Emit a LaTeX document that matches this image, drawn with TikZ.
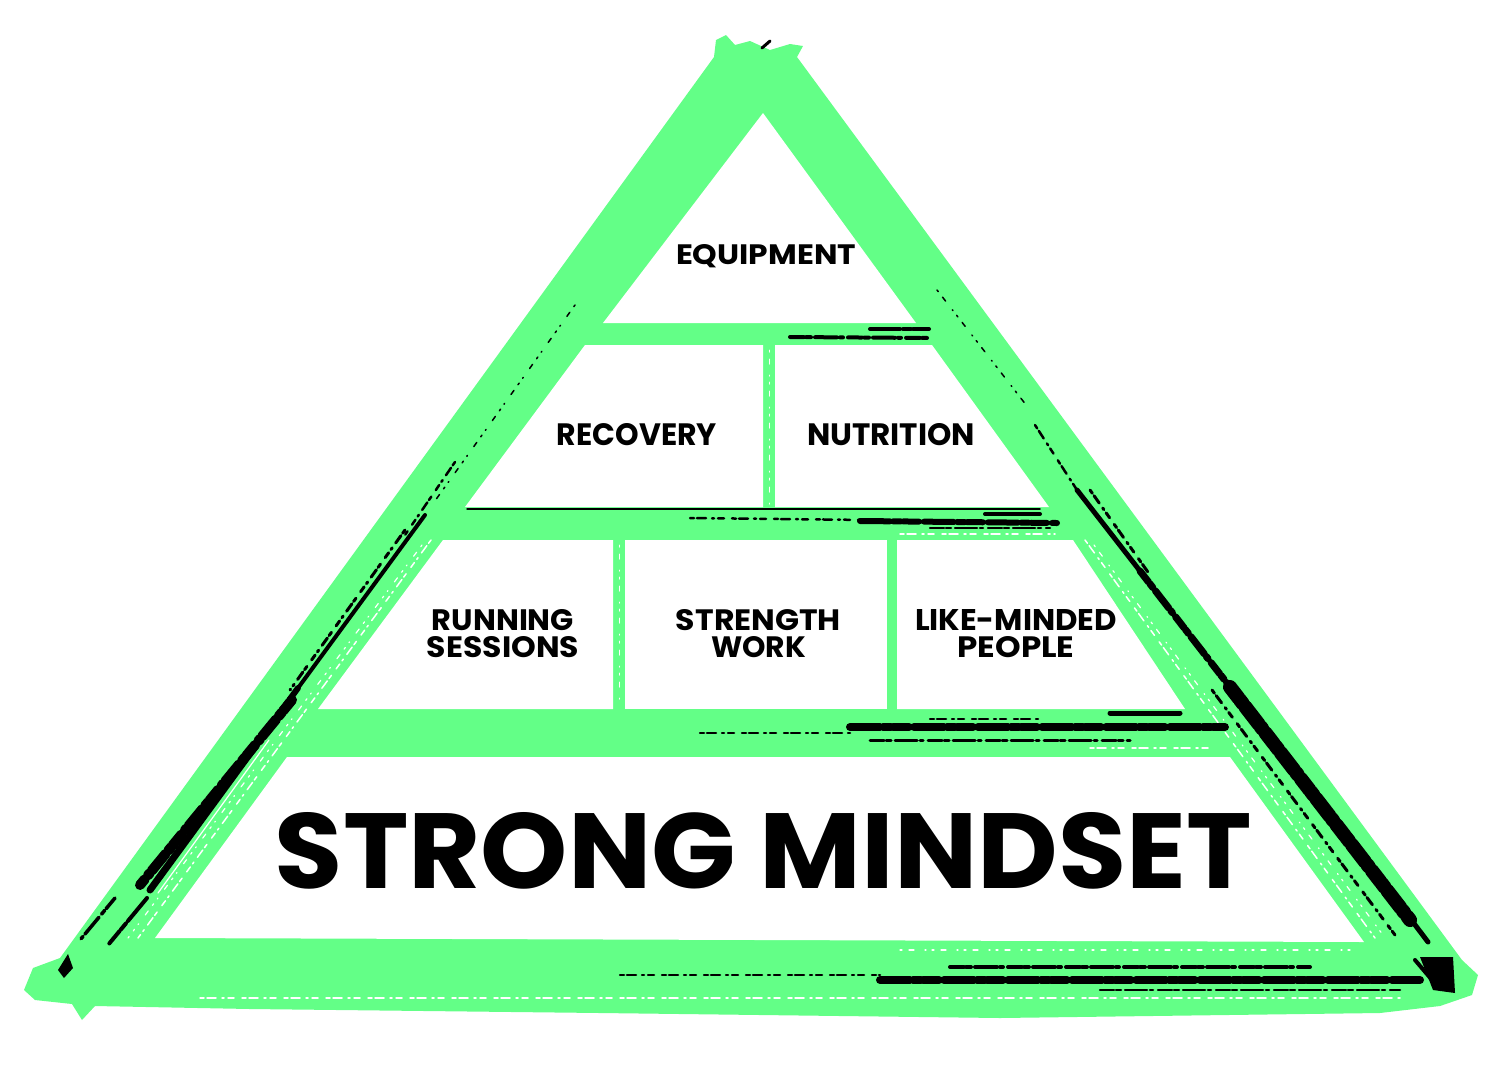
\documentclass[tikz,border=0pt]{standalone}
\usepackage{fontspec}
\setmainfont{Poppins}
\usepackage{graphicx}
\definecolor{brush}{HTML}{63FF87}
\tikzset{
  blk/.style={draw=black,line cap=round},
  wst/.style={draw=white,line cap=round},
  lbl/.style={inner sep=0pt,anchor=base},
  ragA/.style={dash pattern=on 14pt off 2pt on 5pt off 4pt on 22pt off 3pt on 3pt off 5pt},
  ragB/.style={dash pattern=on 4pt off 3pt on 9pt off 6pt on 2pt off 4pt on 6pt off 8pt},
  ragC/.style={dash pattern=on 30pt off 3pt on 8pt off 2pt on 16pt off 5pt},
  ragD/.style={dash pattern=on 2pt off 7pt on 5pt off 11pt on 1pt off 6pt},
}
\newcommand\fitbox[3]{\resizebox{#1pt}{#2pt}{\bfseries #3}}
\begin{document}
\begin{tikzpicture}[x=1pt,y=-1pt]
\useasboundingbox (0,0) rectangle (1507,1080);

% ---------- green brush pyramid ----------
\fill[brush] (716,40) -- (726,35) -- (735,45) -- (750,41) -- (770,50) -- (790,44) -- (803,46) -- (797,57)
  -- (1462,960) -- (1478,975) -- (1472,995) -- (1440,1006) -- (1380,1013) -- (1000,1018)
  -- (600,1013) -- (250,1009) -- (95,1006) -- (82,1020) -- (72,1004) -- (35,1000) -- (24,990)
  -- (33,968) -- (60,958) -- (714,57) -- cycle;

% ---------- white cells ----------
\fill[white] (763,113) -- (916,323) -- (603,323) -- cycle;
\fill[white] (585,345) -- (763,345) -- (763,507) -- (465,507) -- cycle;
\fill[white] (775,345) -- (932,345) -- (1049,507) -- (775,507) -- cycle;
\fill[white] (443,540) -- (613,540) -- (613,709) -- (318,709) -- cycle;
\fill[white] (625,540) -- (887,540) -- (887,709) -- (625,709) -- cycle;
\fill[white] (897,540) -- (1073,540) -- (1185,709) -- (897,709) -- cycle;
\fill[white] (287,757) -- (1230,757) -- (1364,942) -- (155,938) -- cycle;

% ---------- dry-brush white flecks ----------
\draw[wst,line width=1.5,ragB] (431,540) -- (138,938);
\draw[wst,line width=1.2,ragD] (422,545) -- (128,938);
\draw[wst,line width=1.5,ragB] (1085,540) -- (1375,938);
\draw[wst,line width=1.2,ragD] (1094,545) -- (1383,935);
\draw[wst,line width=1.5,ragB] (200,998) -- (1400,998);
\draw[wst,line width=1.2,ragD] (900,950) -- (1350,950);
\draw[wst,line width=1.5,ragB] (1090,748) -- (1210,748);
\draw[wst,line width=1.5,ragB] (900,534) -- (1055,534);
\draw[wst,line width=1,ragD] (769,350) -- (769,505);
\draw[wst,line width=1,ragD] (619,545) -- (619,705);

% ---------- black streaks: left band ----------
\draw[blk,line width=1.5,ragD] (575,305) -- (432,505);
\draw[blk,line width=2.5,ragB] (455,462) -- (405,535);
\draw[blk,line width=4] (425,515) -- (298,688);
\draw[blk,line width=3,ragB] (405,530) -- (290,690);
\draw[blk,line width=6,ragA] (298,688) -- (262,737);
\draw[blk,line width=7] (262,737) -- (150,890);
\draw[blk,line width=10,ragA] (292,700) -- (140,885);
\draw[wst,line width=1.2] (269,740) -- (158,893);
\draw[blk,line width=4,ragC] (147,898) -- (108,945);
\draw[blk,line width=3.5,ragA] (115,898) -- (80,940);
\fill[black] (58,970) -- (68,954) -- (73,968) -- (64,978) -- cycle;

% ---------- black streaks: right band ----------
\draw[blk,line width=1.5,ragD] (937,290) -- (1030,410);
\draw[blk,line width=2.5,ragB] (1035,425) -- (1077,490);
\draw[blk,line width=5] (1077,490) -- (1140,571);
\draw[blk,line width=3,ragB] (1090,490) -- (1150,575);
\draw[blk,line width=7,ragA] (1140,571) -- (1230,687);
\draw[blk,line width=14,ragA] (1230,687) -- (1410,920);
\draw[blk,line width=5] (1245,700) -- (1428,942);
\draw[blk,line width=3,ragB] (1212,690) -- (1395,935);
\fill[black] (1420,957) -- (1453,957) -- (1455,993) -- (1433,990) -- cycle;
\draw[blk,line width=4] (1415,960) -- (1432,980);
\draw[blk,line width=3] (762,48) -- (770,41);

% ---------- black streaks: horizontal bands ----------
\draw[blk,line width=4,ragC] (870,329) -- (932,329);
\draw[blk,line width=4,ragA] (790,337) -- (930,338);
\draw[blk,line width=1.5] (467,509) -- (1040,509);
\draw[blk,line width=6,ragC] (860,521) -- (1057,523);
\draw[blk,line width=4] (985,514) -- (1040,514);
\draw[blk,line width=2.5,ragB] (690,518) -- (870,520);
\draw[blk,line width=2.5,ragA] (930,528) -- (1050,528);
\draw[blk,line width=8,ragC] (850,727) -- (1225,727);
\draw[blk,line width=5] (1110,713) -- (1180,713);
\draw[blk,line width=3,ragA] (870,740) -- (1130,740);
\draw[blk,line width=2.5,ragB] (700,733) -- (850,733);
\draw[blk,line width=2.5,ragB] (930,719) -- (1040,719);
\draw[blk,line width=8,ragC] (880,980) -- (1420,980);
\draw[blk,line width=4,ragA] (950,967) -- (1310,967);
\draw[blk,line width=2.5,ragB] (620,975) -- (880,975);
\draw[blk,line width=2.5,ragA] (1100,990) -- (1400,990);

% ---------- labels ----------
\node[lbl] (equip) at (766,264) {\fitbox{180}{20}{EQUIPMENT}};
\node[lbl] (recov) at (637,445) {\fitbox{160}{22}{RECOVERY}};
\node[lbl] (nutri) at (891,445) {\fitbox{168}{22}{NUTRITION}};
\node[lbl] (run1) at (503,630) {\fitbox{142}{21}{RUNNING}};
\node[lbl] (run2) at (503,657) {\fitbox{152}{21}{SESSIONS}};
\node[lbl] (str1) at (758.5,630) {\fitbox{165}{21}{STRENGTH}};
\node[lbl] (str2) at (758.5,657) {\fitbox{95}{21}{WORK}};
\node[lbl] (like1) at (1016,630) {\fitbox{202}{21}{LIKE-MINDED}};
\node[lbl] (like2) at (1016,657) {\fitbox{117}{21}{PEOPLE}};
\node[lbl] (mind) at (763.5,888) {\fitbox{977}{76}{STRONG MINDSET}};
\end{tikzpicture}
\end{document}
